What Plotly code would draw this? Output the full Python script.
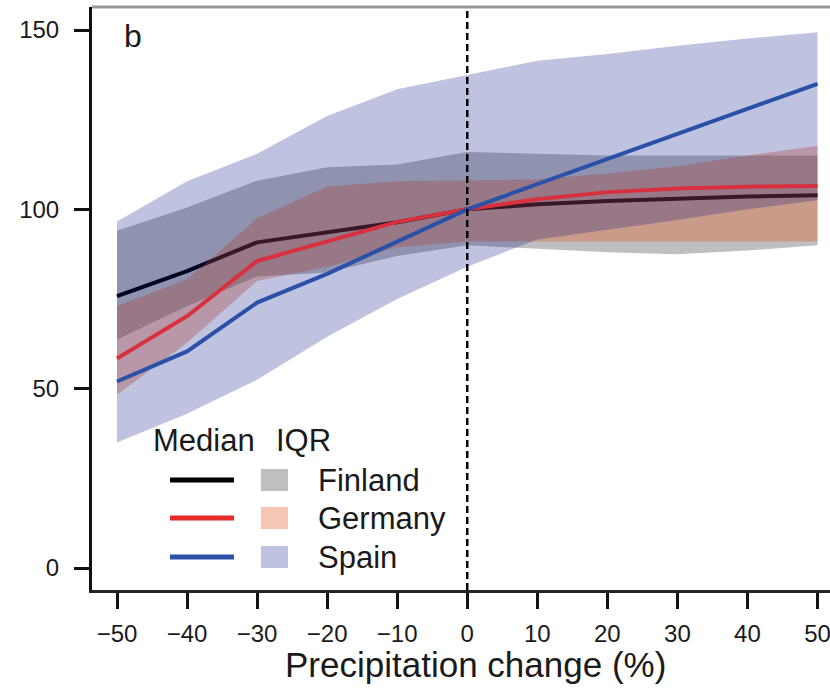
import plotly.graph_objects as go

# Precipitation change (%) on the x axis
precip_change = [-50, -40, -30, -20, -10, 0, 10, 20, 30, 40, 50]

# Medians
finland_median = [75.8, 82.8, 90.8, 93.5, 96.4, 100, 101.4, 102.3, 103.0, 103.6, 103.9]
germany_median = [58.4, 70.2, 85.6, 91.1, 96.5, 100, 102.8, 104.8, 105.8, 106.3, 106.5]
spain_median = [52.0, 60.4, 74.0, 82.0, 91.0, 100, 107.0, 114.0, 121.0, 128.0, 135.0]

# Interquartile ranges
finland_q1 = [63.7, 73.0, 81.3, 82.4, 87.0, 90.0, 89.0, 88.0, 87.5, 88.5, 90.0]
finland_q3 = [94.0, 100.5, 108.0, 111.7, 112.5, 116.0, 115.5, 115.0, 115.0, 115.0, 115.0]
germany_q1 = [48.3, 62.8, 80.0, 84.0, 89.4, 91.0, 91.0, 91.0, 91.0, 91.0, 91.0]
germany_q3 = [73.0, 80.5, 97.5, 106.4, 107.8, 108.0, 108.4, 110.0, 112.0, 115.0, 117.7]
spain_q1 = [35.0, 43.0, 52.5, 64.5, 75.0, 84.0, 91.6, 94.4, 97.0, 100.0, 102.5]
spain_q3 = [96.6, 107.8, 115.5, 126.0, 133.5, 137.5, 141.4, 143.3, 145.6, 147.6, 149.4]

countries = ["Finland", "Germany", "Spain"]
y_ticks = [0, 50, 100, 150]
x_ticks = precip_change

FONT = "Liberation Sans, Arial, Helvetica, sans-serif"
TEXT = "#1a1a1a"

styles = {
    "Finland": dict(line="#000000", band="rgba(0,0,0,0.25)", swatch="#bfbfbf"),
    "Germany": dict(line="#d8303c", band="rgba(225,82,28,0.33)", swatch="#f5c6b4"),
    "Spain": dict(line="#2a50a8", band="rgba(3,15,131,0.25)", swatch="#c0c3e0"),
}
legend_line = {"Finland": "#000000", "Germany": "#e42a2a", "Spain": "#2c50a6"}
series = {
    "Finland": (finland_median, finland_q1, finland_q3),
    "Germany": (germany_median, germany_q1, germany_q3),
    "Spain": (spain_median, spain_q1, spain_q3),
}

W, H = 830, 689
ML, MR, MT, MB = 92, 0, 7, 99
PW, PH = W - ML - MR, H - MT - MB


def px(x):
    return (x - ML) / PW


def py(y):
    return (H - MB - y) / PH


def band(name):
    med, q1, q3 = series[name]
    return go.Scatter(
        x=precip_change + precip_change[::-1],
        y=q3 + q1[::-1],
        fill="toself", fillcolor=styles[name]["band"],
        line=dict(width=0), mode="lines",
        hoverinfo="skip", showlegend=False,
    )


def median_line(name):
    med = series[name][0]
    return go.Scatter(
        x=precip_change, y=med, mode="lines",
        line=dict(color=styles[name]["line"], width=4),
        name=name, showlegend=False,
    )


fig = go.Figure()
# Finland's line sits beneath the other bands; Germany and Spain lines on top
fig.add_trace(band("Finland"))
fig.add_trace(median_line("Finland"))
fig.add_trace(band("Germany"))
fig.add_trace(band("Spain"))
fig.add_trace(median_line("Germany"))
fig.add_trace(median_line("Spain"))

shapes = []
# zero-change reference line
shapes.append(dict(type="line", xref="x", yref="paper", x0=0, x1=0, y0=0, y1=1,
                   line=dict(color="#000000", width=2.5, dash="7px,4px"), layer="above"))
# top frame edge
shapes.append(dict(type="line", xref="paper", yref="paper", x0=0, x1=1, y0=1, y1=1,
                   line=dict(color="#999999", width=3)))

annotations = []
annotations.append(dict(text="b", xref="paper", yref="paper", x=px(133), y=py(36),
                        showarrow=False, font=dict(family=FONT, size=32, color=TEXT),
                        xanchor="center", yanchor="middle"))
annotations.append(dict(text="Precipitation change (%)", xref="paper", yref="paper",
                        x=px(475), y=py(664), showarrow=False,
                        font=dict(family=FONT, size=35, color=TEXT),
                        xanchor="center", yanchor="middle"))

# legend block: headers, line samples, IQR swatches, labels
annotations.append(dict(text="Median", xref="paper", yref="paper", x=px(151), y=py(440),
                        showarrow=False, font=dict(family=FONT, size=31, color=TEXT),
                        xanchor="left", yanchor="middle"))
annotations.append(dict(text="IQR", xref="paper", yref="paper", x=px(274), y=py(440),
                        showarrow=False, font=dict(family=FONT, size=31, color=TEXT),
                        xanchor="left", yanchor="middle"))
row_y = [480, 518, 557]
for name, ry in zip(countries, row_y):
    st = styles[name]
    shapes.append(dict(type="line", xref="paper", yref="paper",
                       x0=px(170), x1=px(234), y0=py(ry), y1=py(ry),
                       line=dict(color=legend_line[name], width=5)))
    shapes.append(dict(type="rect", xref="paper", yref="paper",
                       x0=px(261), x1=px(288), y0=py(ry + 11), y1=py(ry - 11),
                       fillcolor=st["swatch"], line=dict(width=0)))
    annotations.append(dict(text=name, xref="paper", yref="paper", x=px(316), y=py(ry),
                            showarrow=False, font=dict(family=FONT, size=31, color=TEXT),
                            xanchor="left", yanchor="middle"))

x_lo = -50 - (117 - ML) / 7.005
x_hi = x_lo + PW / 7.005
y_per = (568 - 30) / 150.0
y_lo = -(H - MB - 568) / y_per
y_hi = 150 + (30 - MT) / y_per

fig.update_layout(
    width=W, height=H,
    margin=dict(l=ML, r=MR, t=MT, b=MB, pad=0),
    paper_bgcolor="white", plot_bgcolor="white",
    shapes=shapes, annotations=annotations,
    showlegend=False,
    xaxis=dict(
        range=[x_lo, x_hi], tickvals=x_ticks,
        ticktext=[f"{v}".replace("-", "\u2212") for v in x_ticks],
        showgrid=False, zeroline=False, showline=True, linecolor="#222222", linewidth=3,
        ticks="outside", ticklen=16, tickwidth=2.5, tickcolor="#111111",
        tickfont=dict(family=FONT, size=24, color=TEXT), ticklabelstandoff=4,
        ticklabeloverflow="allow",
    ),
    yaxis=dict(
        range=[y_lo, y_hi], tickvals=y_ticks,
        showgrid=False, zeroline=False, showline=True, linecolor="#111111", linewidth=3,
        ticks="outside", ticklen=15, tickwidth=2.5, tickcolor="#111111",
        tickfont=dict(family=FONT, size=24, color=TEXT), ticklabelstandoff=10,
    ),
)

fig.write_html("out.html")
